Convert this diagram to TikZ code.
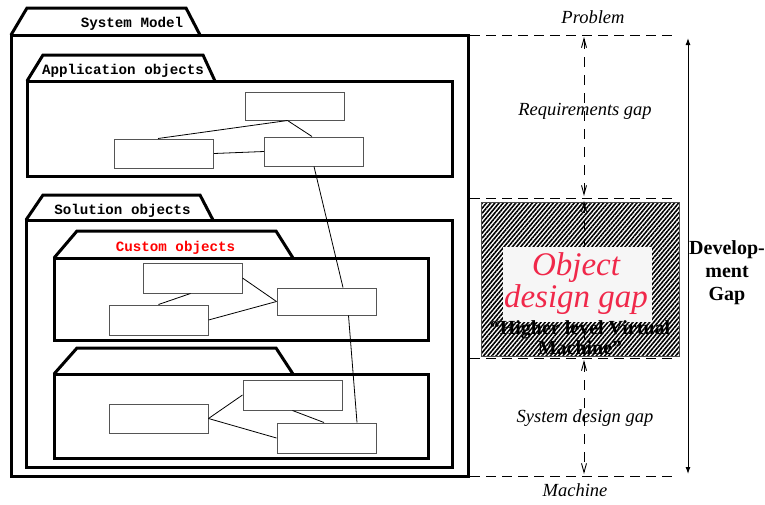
\documentclass[tikz,border=0pt]{standalone}
\usepackage{fontspec}
\setmainfont{Liberation Serif}
\setmonofont{Liberation Mono}
\usetikzlibrary{arrows.meta,patterns.meta,calc}
\definecolor{objred}{HTML}{F0284A}
\definecolor{boxgray}{HTML}{555555}
\begin{document}
\begin{tikzpicture}[x=1pt,y=-1pt,
  pkg/.style={line width=3pt, line join=miter},
  cls/.style={draw=boxgray, line width=1pt, minimum width=99pt, minimum height=29pt, inner sep=0pt, fill=white},
  link/.style={line width=0.8pt},
  pkglabel/.style={font=\ttfamily\bfseries\fontsize{14.2}{16}\selectfont, inner sep=0pt},
  gapline/.style={dash pattern=on 10pt off 6pt, line width=0.9pt},
  gaparrow/.style={dash pattern=on 10pt off 8pt, line width=0.9pt, {Straight Barb[length=9pt,width=5pt]}-{Straight Barb[length=9pt,width=5pt]}},
  gaplabel/.style={font=\itshape\fontsize{18.5}{22}\selectfont, inner sep=0pt}
]
\useasboundingbox (0,0) rectangle (765,504);

% ---- packages ----
\draw[pkg] (11,35) -- (27,8) -- (186,8) -- (200,35);
\draw[pkg] (11,35) rectangle (468,476);
\node[pkglabel] (sysl) at (132,24) {System Model};

\draw[pkg] (27,81) -- (43,55) -- (203,55) -- (215,81);
\draw[pkg] (27,81) rectangle (452,176);
\node[pkglabel] (appl) at (123,71) {Application objects};

\draw[pkg] (26,220) -- (43,195) -- (200,195) -- (213,220);
\draw[pkg] (26,220) rectangle (452,467);
\node[pkglabel] (soll) at (122.5,211) {Solution objects};

\draw[pkg] (54,258) -- (77,231) -- (276,231) -- (293,258);
\draw[pkg] (54,258) rectangle (428,340);
\node[pkglabel, text=red] (cusl) at (175.5,248) {Custom objects};

\draw[pkg] (54,374) -- (77,348) -- (276,348) -- (293,374);
\draw[pkg] (54,374) rectangle (428,458);

% ---- classes ----
\node[cls, minimum height=28pt] (A) at (294.5,106) {};
\node[cls] (B) at (164,153.5) {};
\node[cls] (C) at (314,151.5) {};
\node[cls, minimum height=30pt] (D) at (192.5,278) {};
\node[cls, minimum height=30pt] (E) at (158.5,320) {};
\node[cls, minimum height=27pt] (F) at (326.5,301.5) {};
\node[cls, minimum height=30pt] (G) at (292.5,395) {};
\node[cls] (H) at (158.5,418.5) {};
\node[cls, minimum height=30pt] (I) at (326.5,438) {};

% ---- links ----
\draw[link] ([xshift=-7pt]A.south) -- ([xshift=-6pt]B.north);
\draw[link] ([xshift=-7pt]A.south) -- ([xshift=-2pt]C.north);
\draw[link] (B.east) -- (C.west);
\draw[link] (C.south) -- ([xshift=16.5pt]F.north);
\draw[link] ([xshift=-2pt]D.south) -- (E.north);
\draw[link] (D.east) -- (F.west);
\draw[link] (E.east) -- (F.west);
\draw[link] ([xshift=22pt]F.south) -- ([xshift=30.5pt]I.north);
\draw[link] (H.east) -- (G.west);
\draw[link] (H.east) -- (I.west);
\draw[link] (G.south) -- ([xshift=-2.5pt]I.north);

% ---- right side: gaps ----
\coordinate (h1a) at (470,35);  \coordinate (h1b) at (672,35);
\coordinate (h2a) at (470,198); \coordinate (h2b) at (672,198);
\coordinate (h3a) at (470,358); \coordinate (h3b) at (672,358);
\coordinate (h4a) at (470,476); \coordinate (h4b) at (672,476);
\draw[gapline] (h1a) -- (h1b);
\draw[gapline] (h2a) -- (h2b);
\draw[gapline] (h3a) -- (h3b);
\draw[gapline] (h4a) -- (h4b);

\node[draw=black!70, line width=0.8pt, pattern={Lines[angle=50,distance=3.2pt,line width=1.6pt]}, pattern color=black,
      minimum width=198pt, minimum height=154pt, inner sep=0pt] (hatch) at (580,279) {};

\coordinate (va) at (584,37);  \coordinate (vb) at (584,196);
\coordinate (vc) at (584,201); \coordinate (vd) at (584,356);
\coordinate (ve) at (584,360); \coordinate (vf) at (584,474);
\draw[gaparrow] (va) -- (vb);
\draw[gaparrow] (vc) -- (vd);
\draw[gaparrow] (ve) -- (vf);

\node[fill={rgb,255:red,246;green,246;blue,246}, minimum width=149pt, minimum height=75pt, inner sep=0pt] (obox) at (577.5,284.5) {};
\node[text=objred, font=\itshape\fontsize{33}{32}\selectfont, align=center, inner sep=0pt] (objl) at (576,284) {Object\\design gap};
\node[font=\bfseries\fontsize{20}{20}\selectfont, align=center, inner sep=0pt] (hvm) at (580,338) {“Higher level Virtual\\Machine”};

\node[gaplabel] (prob) at (593,17) {Problem};
\node[gaplabel] (reqg) at (585,111) {Requirements gap};
\node[gaplabel] (sysg) at (585,418) {System design gap};
\node[gaplabel] (mach) at (575,490) {Machine};

\coordinate (da) at (688,38); \coordinate (db) at (688,474);
\draw[line width=1pt, {Latex[length=7pt,width=5pt]}-{Latex[length=7pt,width=5pt]}] (da) -- (db);
\node[font=\bfseries\fontsize{20}{23}\selectfont, align=center, inner sep=0pt] (devg) at (727,273) {Develop-\\ment\\Gap};
\end{tikzpicture}
\end{document}
